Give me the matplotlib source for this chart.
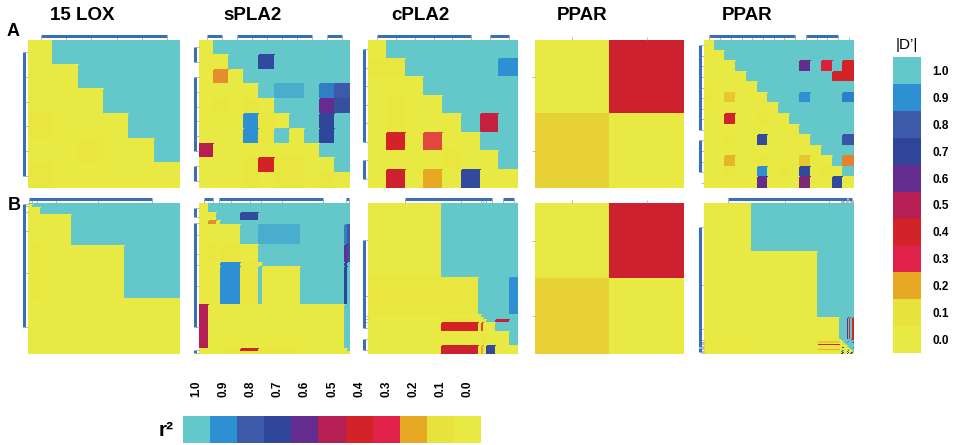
import numpy as np
import matplotlib
matplotlib.use('Agg')
import matplotlib.pyplot as plt
from matplotlib.colors import LinearSegmentedColormap
from matplotlib.transforms import blended_transform_factory

plt.rcParams['font.family'] = ['Liberation Sans', 'DejaVu Sans']

# colour key (value -> colour), shared by |D'| and r2
ld_levels = [0.0, 0.1, 0.2, 0.3, 0.4, 0.5, 0.6, 0.7, 0.8, 0.9, 1.0]
ld_colors = ['#E9E944', '#E8E23C', '#E7A823', '#E01F4B', '#D32228', '#B71F52',
             '#632C8E', '#2E459A', '#3C5AA8', '#2B8FD2', '#64C7CA']
key_labels = ['1.0', '0.9', '0.8', '0.7', '0.6', '0.5', '0.4', '0.3', '0.2', '0.1', '0.0']

titles = ['15 LOX', 'sPLA2', 'cPLA2', 'PPAR', 'PPAR']

# LD matrices: upper triangle |D'|, lower triangle r2
lox_ld = [
    [0, 1, 1, 1, 1, 1],
    [0, 0, 1, 1, 1, 1],
    [0, 0, 0, 1, 1, 1],
    [0.05, 0, 0, 0, 1, 1],
    [0, 0, 0.05, 0, 0, 1],
    [0.05, 0, 0, 0, 0, 0],
]
spla_ld = [
    [0, 1, 1, 1, 1, 1, 1, 1, 1, 1],
    [0, 0, 1, 1, 0.72, 1, 1, 1, 1, 1],
    [0, 0.22, 0, 1, 1, 1, 1, 1, 1, 1],
    [0, 0, 0, 0, 1, 0.95, 0.95, 1, 0.87, 0.8],
    [0, 0.05, 0, 0.05, 0, 1, 1, 1, 0.6, 0.75],
    [0, 0, 0, 0.9, 0.05, 0, 1, 1, 0.7, 1],
    [0, 0, 0, 0.9, 0.05, 1, 0, 1, 0.7, 1],
    [0.5, 0, 0, 0, 0, 0, 0, 0, 1, 1],
    [0, 0, 0, 0.05, 0.4, 0.05, 0.05, 0, 0, 1],
    [0, 0, 0, 0.05, 0, 0.05, 0.05, 0, 0.05, 0],
]
cpla_ld = [
    [0, 1, 1, 1, 1, 1, 1, 1],
    [0.05, 0.05, 1, 1, 1, 1, 1, 0.9],
    [0, 0, 0, 1, 1, 1, 1, 1],
    [0, 0.05, 0, 0, 1, 1, 1, 1],
    [0, 0.05, 0, 0, 0, 1, 0.45, 1],
    [0, 0.4, 0, 0.27, 0, 0, 1, 1],
    [0, 0, 0, 0, 0.05, 0, 0, 1],
    [0, 0.42, 0, 0.2, 0, 0.72, 0, 0],
]
ppar_ld = [
    [0, 0.42],
    [0.13, 0],
]
ppar2_ld = [
    [0, 1, 1, 1, 1, 1, 1, 1, 1, 1, 1, 1, 1, 1],
    [0, 0, 1, 1, 1, 1, 1, 1, 1, 1, 1, 1, 1, 1],
    [0, 0, 0, 1, 1, 1, 1, 1, 1, 0.6, 1, 0.35, 1, 0.4],
    [0, 0, 0, 0, 1, 1, 1, 1, 1, 1, 1, 1, 0.4, 0.4],
    [0, 0, 0, 0, 0, 1, 1, 1, 1, 1, 1, 1, 1, 1],
    [0.05, 0, 0.15, 0, 0, 0, 1, 1, 1, 0.9, 1, 1, 1, 0.87],
    [0, 0, 0, 0, 0, 0, 0, 1, 1, 1, 1, 1, 1, 1],
    [0, 0, 0.4, 0, 0, 0.05, 0, 0, 1, 1, 1, 1, 1, 1],
    [0, 0, 0, 0, 0, 0, 0, 0, 0, 1, 1, 1, 1, 1],
    [0, 0, 0.05, 0, 0, 0.72, 0, 0, 0, 0, 1, 1, 1, 0.78],
    [0, 0, 0, 0, 0, 0, 0, 0, 0, 0, 0, 1, 1, 1],
    [0, 0, 0.18, 0, 0, 0.05, 0, 0, 0, 0.15, 0, 0, 1, 0.23],
    [0, 0, 0.05, 0, 0, 0.9, 0, 0.05, 0, 0.72, 0, 0.05, 0, 1],
    [0, 0, 0, 0, 0, 0.6, 0, 0, 0, 0.57, 0, 0, 0.72, 0],
]

# relative physical span of each SNP (row B panels)
lox_span = [2, 3, 7.5, 31, 53, 55]
spla_span = [30, 24, 12, 58, 55, 13, 114, 131, 7, 7]
cpla_span = [224, 111, 8, 8, 8, 28, 40, 25]
ppar_span = [1, 1]
ppar2_span = [150, 205, 68, 4, 4, 4, 4, 4, 4, 4, 4, 4, 4, 4]

# gene blocks (first SNP, last SNP)
lox_groups = [(0, 5)]
spla_groups = [(0, 1), (2, 7), (8, 9)]
cpla_groups = [(0, 5), (6, 7)]
ppar_groups = []
ppar2_groups = [(0, 8), (9, 12)]

matrices = [lox_ld, spla_ld, cpla_ld, ppar_ld, ppar2_ld]
spans = [lox_span, spla_span, cpla_span, ppar_span, ppar2_span]
groups = [lox_groups, spla_groups, cpla_groups, ppar_groups, ppar2_groups]

cmap = LinearSegmentedColormap.from_list('ld', list(zip(ld_levels, ld_colors)))
bar_color = '#3B6FB3'

W, H = 963, 445
fig = plt.figure(figsize=(W / 100, H / 100), dpi=100)


def px_axes(x0, y0, x1, y1):
    return fig.add_axes([x0 / W, 1 - y1 / H, (x1 - x0) / W, (y1 - y0) / H])


def draw_ld(ax, matrix, span, blocks):
    m = np.array(matrix, dtype=float)
    edges = np.concatenate([[0], np.cumsum(span)])
    centers = (edges[:-1] + edges[1:]) / 2
    ax.pcolormesh(edges, edges, m, cmap=cmap, vmin=0, vmax=1, shading='flat',
                  edgecolors='face', linewidth=0.2)
    ax.set_xlim(edges[0], edges[-1])
    ax.set_ylim(edges[-1], edges[0])
    ax.set_xticks(centers)
    ax.set_yticks(centers)
    ax.xaxis.tick_top()
    ax.tick_params(length=2, width=0.5, color='#a0a0a0', labeltop=False,
                   labelleft=False, labelbottom=False)
    for s in ax.spines.values():
        s.set_visible(False)
    top = blended_transform_factory(ax.transData, ax.transAxes)
    left = blended_transform_factory(ax.transAxes, ax.transData)
    for a, b in blocks:
        ax.plot([centers[a], centers[b]], [1.025, 1.025], transform=top,
                clip_on=False, color=bar_color, lw=2.2, solid_capstyle='butt')
        ax.plot([-0.028, -0.028], [centers[a], centers[b]], transform=left,
                clip_on=False, color=bar_color, lw=2.2, solid_capstyle='butt')


col_x = [(28, 180), (199, 350), (368, 518), (535, 684), (704, 854)]
row_y = [(40, 188), (203, 354)]
title_x = [82, 253, 420, 582, 747]

for i in range(5):
    x0, x1 = col_x[i]
    n = len(matrices[i])
    # row A: equal spacing
    ax = px_axes(x0, row_y[0][0], x1, row_y[0][1])
    draw_ld(ax, matrices[i], [1] * n, groups[i])
    # row B: physical spacing
    ax = px_axes(x0, row_y[1][0], x1, row_y[1][1])
    draw_ld(ax, matrices[i], spans[i], groups[i])
    fig.text(title_x[i] / W, 1 - 15 / H, titles[i], ha='center', va='center',
             fontsize=13.5, fontweight='bold')

fig.text(13 / W, 1 - 32 / H, 'A', ha='center', va='center', fontsize=13, fontweight='bold')
fig.text(14 / W, 1 - 206 / H, 'B', ha='center', va='center', fontsize=13, fontweight='bold')

key_vals = np.array(ld_levels[::-1])

# |D'| key on the right
cax = px_axes(893, 57, 921, 353)
cax.pcolormesh([0, 1], np.arange(12), key_vals.reshape(-1, 1), cmap=cmap, vmin=0, vmax=1)
cax.set_ylim(11, 0)
cax.set_xlim(0, 1)
cax.set_xticks([])
cax.set_yticks(np.arange(11) + 0.5)
cax.set_yticklabels(key_labels, fontsize=8.5, fontweight='bold')
cax.yaxis.tick_right()
cax.tick_params(length=0, pad=8)
for s in cax.spines.values():
    s.set_visible(False)
cax.text(0.5, 1.04, '|D\u2019|', transform=cax.transAxes, ha='center', va='center', fontsize=11)

# r2 key at the bottom
rax = px_axes(183, 416, 481, 443)
rax.pcolormesh(np.arange(12), [0, 1], key_vals.reshape(1, -1), cmap=cmap, vmin=0, vmax=1)
rax.set_xlim(0, 11)
rax.set_ylim(0, 1)
rax.set_yticks([])
rax.set_xticks(np.arange(11) + 0.5)
rax.set_xticklabels(key_labels, fontsize=8.5, fontweight='bold', rotation=90)
rax.xaxis.tick_top()
rax.tick_params(length=0, pad=14)
for s in rax.spines.values():
    s.set_visible(False)
fig.text(166 / W, 1 - 431 / H, 'r\u00b2', ha='center', va='center', fontsize=15, fontweight='bold')

fig.savefig('out.png', dpi=100)
